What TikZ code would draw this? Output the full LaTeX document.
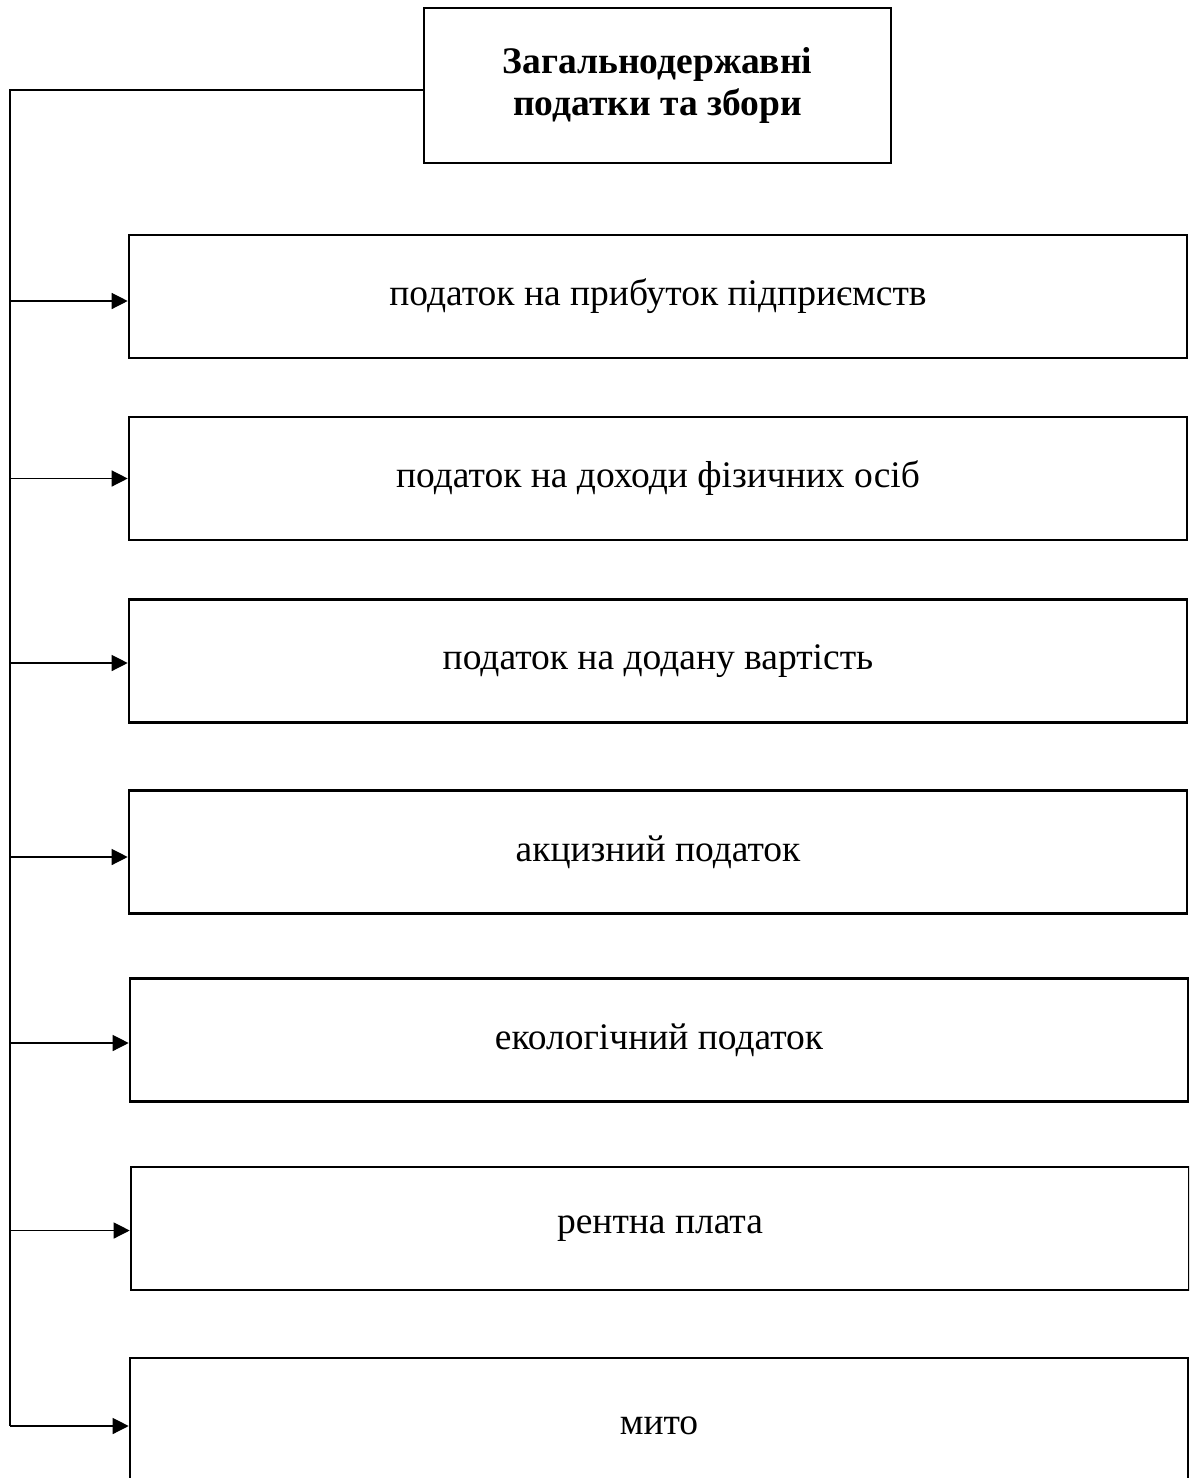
\documentclass[tikz,border=0pt]{standalone}
\usepackage{fontspec}
\setmainfont{Liberation Serif}
\usetikzlibrary{arrows.meta}

\begin{document}
\begin{tikzpicture}[x=1pt,y=1pt,
    box/.style={draw,line width=2.6pt,minimum width=1058pt,minimum height=123pt,inner sep=0pt,font=\fontsize{37.5}{42}\selectfont},
    head/.style={draw,line width=2.6pt,minimum width=467pt,minimum height=155pt,align=center,font=\fontsize{37.5}{42}\selectfont\bfseries},
    line/.style={line width=1.3pt},
    arr/.style={line width=1.3pt,-{Triangle[length=16pt,width=16pt]}}]
            \clip (0,0) rectangle (1189,-1478);
            \fill[white] (0,0) rectangle (1189,-1478);

            \node[head] (top) at (657.5,-85.5) {Загальнодержавні\\податки та збори};

            \node[box] (b1) at (658,-296.5) {податок на прибуток підприємств};
            \node[box] (b2) at (658,-478.5) {податок на доходи фізичних осіб};
            \node[box] (b3) at (658,-661) {податок на додану вартість};
            \node[box] (b4) at (658,-852) {акцизний податок};
            \node[box] (b5) at (659,-1040) {екологічний податок};
            \node[box] (b6) at (660,-1228.5) {рентна плата};
            \node[box,minimum height=136pt] (b7) at (659,-1426) {мито};

            \coordinate (trunk) at (10,-1426);

            \draw[line] ([yshift=-4.5pt]top.west) -| (trunk);
            \foreach \i/\d in {1/4.5,2/0,3/2,4/5,5/3,6/2,7/0}
                \draw[arr] ([yshift=-\d pt]trunk |- b\i.west) -- ([yshift=-\d pt]b\i.west);
        \end{tikzpicture}
\end{document}
